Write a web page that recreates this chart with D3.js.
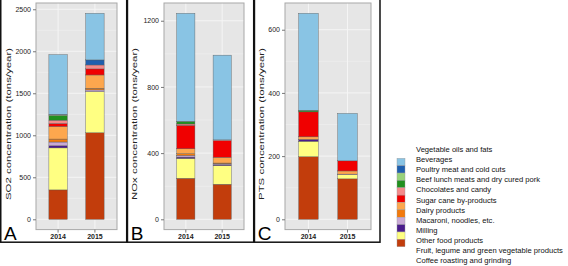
<!DOCTYPE html>
<html><head><meta charset="utf-8">
<script src="https://cdn.jsdelivr.net/npm/d3@7/dist/d3.min.js"></script>
<style>body{margin:0;background:#fff}svg{display:block;font-family:"Liberation Sans",Arial,sans-serif}</style>
</head><body><svg id="c" width="568" height="266"></svg>
<script>
// ---- data ----
const categories = ["Vegetable oils and fats","Beverages","Poultry meat and cold cuts","Beef lunch meats and dry cured pork","Chocolates and candy","Sugar cane by-products","Dairy products","Macaroni, noodles, etc.","Milling","Other food products","Fruit, legume and green vegetable products","Coffee roasting and grinding"];
const colors = ["#89C4E4","#1F5FAE","#98D27A","#21901F","#F48A8A","#F00000","#FDA74E","#F27A0C","#C9A9D6","#4A1C8C","#FFFF82","#C23D0C"];
const years = ["2014","2015"];
const so2_2014 = [712, 5, 8, 55, 40, 35, 150, 35, 45, 25, 500, 350];
const so2_2015 = [555, 60, 0, 0, 47, 72, 158, 20, 20, 0, 490, 1030];
const nox_2014 = [653, 0, 0, 16, 8, 142, 30, 10, 10, 8, 120, 248];
const nox_2015 = [512, 0, 0, 0, 5, 100, 35, 5, 5, 5, 113, 212];
const pts_2014 = [307, 0, 0, 5, 0, 79, 8, 0, 0, 6, 49, 198];
const pts_2015 = [150, 0, 0, 0, 0, 32, 10, 0, 2, 0, 13, 128];
const so2Ticks = [0, 500, 1000, 1500, 2000, 2500];
const noxTicks = [0, 400, 800, 1200];
const ptsTicks = [0, 200, 400, 600];
const panelLetters = ["A", "B", "C"];
const axisTitles = ["SO2 concentration (tons/year)", "NOx concentration (tons/year)", "PTS concentration (tons/year)"];

const panels = [
  {letter: panelLetters[0], title: axisTitles[0], values: [so2_2014, so2_2015], ticks: so2Ticks, x0: 36, x1: 117, fx0: 0, fx1: 126.7},
  {letter: panelLetters[1], title: axisTitles[1], values: [nox_2014, nox_2015], ticks: noxTicks, x0: 164, x1: 244, fx0: 126.7, fx1: 253.7},
  {letter: panelLetters[2], title: axisTitles[2], values: [pts_2014, pts_2015], ticks: ptsTicks, x0: 285, x1: 371, fx0: 253.7, fx1: 380}
];

const svg = d3.select("#c");
const PT = 3, PB = 229.6;
const FF = "'Liberation Sans', Arial, sans-serif";

panels.forEach(p => {
  const g = svg.append("g");
  const stacks = p.values.map((vals, yi) => {
    let acc = 0;
    const segs = [];
    for (let i = categories.length - 1; i >= 0; i--) {
      segs.push({cat: i, y0: acc, y1: acc + vals[i], year: years[yi]});
      acc += vals[i];
    }
    return segs;
  });
  const maxV = d3.max(p.values, v => d3.sum(v));
  const y = d3.scaleLinear().domain([-0.05 * maxV, 1.05 * maxV]).range([PB, PT]);
  const x = d3.scaleBand().domain(years).range([p.x0, p.x1]).paddingInner(0.5).paddingOuter(0.35);

  g.append("rect").attr("x", p.x0).attr("y", PT).attr("width", p.x1 - p.x0).attr("height", PB - PT).attr("fill", "#E6E6E6");
  const step = p.ticks[1] - p.ticks[0];
  const minor = p.ticks.map(t => t + step / 2);
  g.selectAll(".mn").data(minor.filter(v => y(v) > PT)).join("line")
    .attr("x1", p.x0).attr("x2", p.x1).attr("y1", d => y(d)).attr("y2", d => y(d))
    .attr("stroke", "#F2F2F2").attr("stroke-width", 0.5);
  g.selectAll(".mj").data(p.ticks).join("line")
    .attr("x1", p.x0).attr("x2", p.x1).attr("y1", d => y(d)).attr("y2", d => y(d))
    .attr("stroke", "#F5F5F5").attr("stroke-width", 1);
  g.selectAll(".vg").data(years).join("line")
    .attr("x1", d => x(d) + x.bandwidth() / 2).attr("x2", d => x(d) + x.bandwidth() / 2)
    .attr("y1", PT).attr("y2", PB).attr("stroke", "#F5F5F5").attr("stroke-width", 1);

  stacks.forEach(segs => {
    g.selectAll(null).data(segs.filter(s => s.y1 > s.y0)).join("rect")
      .attr("x", s => x(s.year)).attr("width", x.bandwidth())
      .attr("y", s => y(s.y1)).attr("height", s => y(s.y0) - y(s.y1))
      .attr("fill", s => colors[s.cat]).attr("stroke", "#5A5A5A").attr("stroke-width", 0.4);
  });

  g.append("rect").attr("x", p.x0).attr("y", PT).attr("width", p.x1 - p.x0).attr("height", PB - PT)
    .attr("fill", "none").attr("stroke", "#A8A8A8").attr("stroke-width", 1);

  const ya = g.append("g").attr("transform", `translate(${p.x0},0)`)
    .call(d3.axisLeft(y).tickValues(p.ticks).tickFormat(d3.format("d")).tickSize(3).tickPadding(2));
  ya.select(".domain").remove();
  ya.selectAll("line").attr("stroke", "#777");
  ya.selectAll("text").attr("font-size", "7px").attr("fill", "#222").attr("font-family", FF);
  const xa = g.append("g").attr("transform", `translate(0,${PB})`)
    .call(d3.axisBottom(x).tickSize(3).tickPadding(1.5));
  xa.select(".domain").remove();
  xa.selectAll("line").attr("stroke", "#777");
  xa.selectAll("text").attr("font-size", "7px").attr("font-weight", "bold").attr("fill", "#222").attr("font-family", FF);

  g.append("text").attr("transform", `translate(${p.fx0 + 10.5},${124}) rotate(-90)`)
    .attr("text-anchor", "middle").attr("font-size", "7.5px").attr("fill", "#222").attr("font-family", FF)
    .attr("textLength", 152).attr("lengthAdjust", "spacingAndGlyphs").text(p.title);

  g.append("text").attr("x", p.fx0 + 4).attr("y", 240).attr("font-size", "19px").attr("fill", "#000")
    .attr("font-family", FF).text(p.letter);

  g.append("rect").attr("x", p.fx0 + 0.75).attr("y", -2).attr("width", p.fx1 - p.fx0 - 0.75).attr("height", 244.2)
    .attr("fill", "none").attr("stroke", "#111").attr("stroke-width", 1.5);
});

const leg = svg.append("g");
const keyH = (246.7 - 158.3) / colors.length;
leg.selectAll("rect").data(colors).join("rect")
  .attr("x", 397).attr("y", (d, i) => 158.3 + i * keyH).attr("width", 8).attr("height", keyH)
  .attr("fill", d => d).attr("stroke", "#9A9A9A").attr("stroke-width", 0.4);
leg.selectAll("text").data(categories).join("text")
  .attr("x", 416).attr("y", (d, i) => 149.3 + i * 10.13).attr("dy", "0.35em")
  .attr("font-size", "7.6px").attr("fill", "#111").attr("font-family", FF).text(d => d);
</script></body></html>
